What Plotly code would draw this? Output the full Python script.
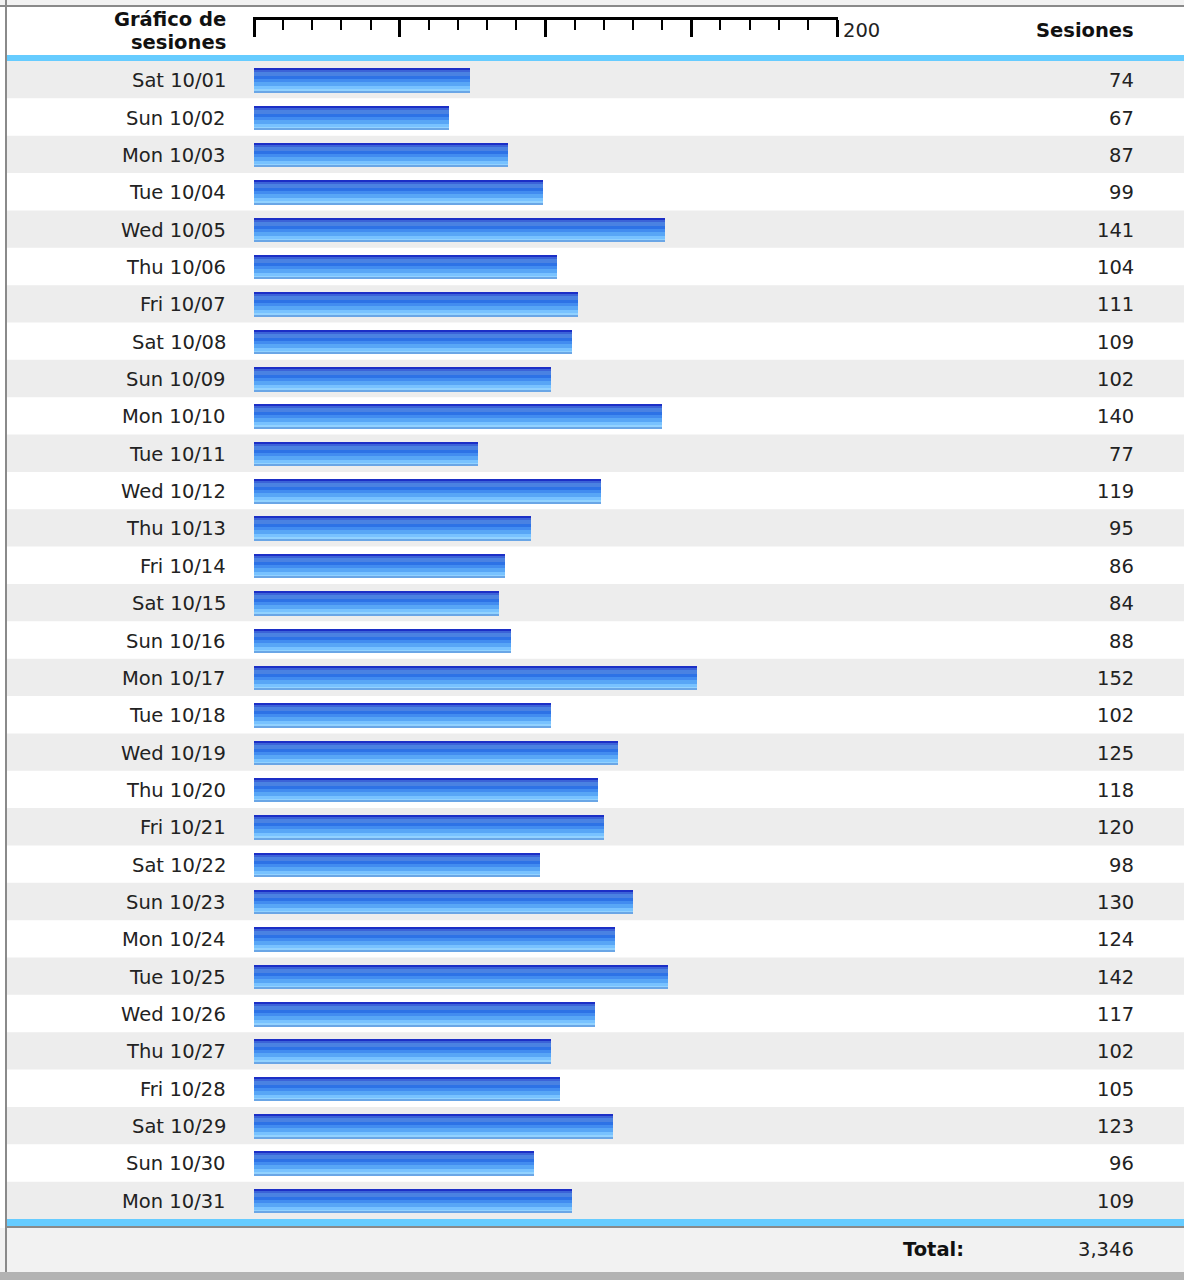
import plotly.graph_objects as go

# ---------------- data ----------------
days = ["Sat", "Sun", "Mon", "Tue", "Wed", "Thu", "Fri"] * 5
dates = ["10/%02d" % d for d in range(1, 32)]
labels = [f"{days[i]} {dates[i]}" for i in range(31)]
sessions = [74, 67, 87, 99, 141, 104, 111, 109, 102, 140, 77, 119, 95, 86, 84, 88,
            152, 102, 125, 118, 120, 98, 130, 124, 142, 117, 102, 105, 123, 96, 109]
ruler_major = [0, 50, 100, 150, 200]
ruler_label = "200"
header_left = ["Gráfico de", "sesiones"]
header_right = "Sesiones"
total_label = "Total:"

# ---------------- geometry (pixels) ----------------
W, H = 1184, 1280
ROW_TOP, ROW_BOT = 61, 1219
N = len(labels)
ROW_H = (ROW_BOT - ROW_TOP) / N
X0_PX, X200_PX = 254, 837
PXU = (X200_PX - X0_PX) / 200.0
FONT = "DejaVu Sans"
FS = 19.5
TXT = "#222222"
LBL_R = 228
VAL_R = 1136


def py(px):
    return 1 - px / H


def px_x(px):
    return px / W


fig = go.Figure()

# gradient stripes for the bars (height px, colour), top to bottom
stripes = [(2, "#1c2fc6"), (2, "#3b63d8"), (4, "#4a82e2"), (3, "#2d72e6"),
           (3, "#428cf0"), (4, "#58a6f6"), (3, "#78c2ff"), (2, "#92d2ff"),
           (1, "#6aa6e6")]
top = -11.5
cum = 0
for h, c in stripes:
    fig.add_trace(go.Bar(
        x=sessions, y=list(range(N)), orientation="h",
        width=h / ROW_H, offset=(top + cum) / ROW_H,
        marker=dict(color=c, line=dict(width=0)),
        hoverinfo="skip", showlegend=False, xaxis="x", yaxis="y"))
    cum += h

# invisible trace so the ruler axis is drawn
fig.add_trace(go.Scatter(x=[0, 200], y=[0, 0], mode="markers",
                         marker=dict(opacity=0), hoverinfo="skip",
                         showlegend=False, xaxis="x2", yaxis="y2"))

shapes = []
# top light strip & bottom strips
shapes.append(dict(type="rect", xref="paper", yref="paper", x0=0, x1=1,
                   y0=py(5), y1=1, fillcolor="#f2f2f2", line_width=0, layer="below"))
shapes.append(dict(type="rect", xref="paper", yref="paper", x0=0, x1=1,
                   y0=py(1272), y1=py(1228), fillcolor="#f2f2f2", line_width=0, layer="below"))
shapes.append(dict(type="rect", xref="paper", yref="paper", x0=0, x1=1,
                   y0=0, y1=py(1272), fillcolor="#b3b3b3", line_width=0, layer="below"))
# gray rules
shapes.append(dict(type="rect", xref="paper", yref="paper", x0=0, x1=1,
                   y0=py(7), y1=py(5), fillcolor="#8a8a8a", line_width=0, layer="below"))
shapes.append(dict(type="rect", xref="paper", yref="paper", x0=px_x(7), x1=1,
                   y0=py(1228), y1=py(1226), fillcolor="#8a8a8a", line_width=0, layer="below"))
shapes.append(dict(type="rect", xref="paper", yref="paper", x0=px_x(5), x1=px_x(7),
                   y0=py(1272), y1=1, fillcolor="#8a8a8a", line_width=0, layer="below"))
# blue bands
shapes.append(dict(type="rect", xref="paper", yref="paper", x0=px_x(7), x1=1,
                   y0=py(61), y1=py(55), fillcolor="#66ccff", line_width=0, layer="below"))
shapes.append(dict(type="rect", xref="paper", yref="paper", x0=px_x(7), x1=1,
                   y0=py(1226), y1=py(1219), fillcolor="#66ccff", line_width=0, layer="below"))
# alternating rows
for i in range(N):
    if i % 2 == 0:
        shapes.append(dict(type="rect", xref="paper", yref="y", x0=px_x(7), x1=1,
                           y0=i - 0.5, y1=i + 0.5, fillcolor="#ededed",
                           line_width=0, layer="below"))

annotations = []
for i in range(N):
    annotations.append(dict(x=px_x(LBL_R), y=i, xref="paper", yref="y", text=labels[i],
                            showarrow=False, xanchor="right", yanchor="middle", yshift=-1,
                            font=dict(family=FONT, size=FS, color=TXT)))
    annotations.append(dict(x=px_x(VAL_R), y=i, xref="paper", yref="y",
                            text=f"{sessions[i]:,}",
                            showarrow=False, xanchor="right", yanchor="middle", yshift=-1,
                            font=dict(family=FONT, size=FS, color=TXT)))
# header
for txt, ypx in zip(header_left, [19, 43]):
    annotations.append(dict(x=px_x(LBL_R), y=py(ypx), xref="paper", yref="paper", text=txt,
                            showarrow=False, xanchor="right", yanchor="middle",
                            font=dict(family=FONT, size=FS, color="#111111", weight="bold")))
annotations.append(dict(x=px_x(VAL_R), y=py(31), xref="paper", yref="paper", text=header_right,
                        showarrow=False, xanchor="right", yanchor="middle",
                        font=dict(family=FONT, size=FS, color="#111111", weight="bold")))
annotations.append(dict(x=ruler_major[-1], y=py(31), xref="x2", yref="paper", text=ruler_label,
                        showarrow=False, xanchor="left", yanchor="middle", xshift=4,
                        font=dict(family=FONT, size=FS, color=TXT)))
# footer
annotations.append(dict(x=px_x(966), y=py(1249), xref="paper", yref="paper", text=total_label,
                        showarrow=False, xanchor="right", yanchor="middle",
                        font=dict(family=FONT, size=FS, color="#111111", weight="bold")))
annotations.append(dict(x=px_x(VAL_R), y=py(1249), xref="paper", yref="paper",
                        text=f"{sum(sessions):,}",
                        showarrow=False, xanchor="right", yanchor="middle",
                        font=dict(family=FONT, size=FS, color=TXT)))

pad = 0.5  # data units added on each end of the ruler so edge ticks are fully drawn
fig.update_layout(
    width=W, height=H, margin=dict(l=0, r=0, t=0, b=0),
    paper_bgcolor="white", plot_bgcolor="rgba(0,0,0,0)",
    barmode="overlay", bargap=0,
    showlegend=False,
    xaxis=dict(domain=[px_x(X0_PX), px_x(X200_PX)], range=[0, 200],
               visible=False, fixedrange=True),
    yaxis=dict(domain=[py(ROW_BOT), py(ROW_TOP)], range=[N - 0.5, -0.5],
               visible=False, fixedrange=True),
    xaxis2=dict(domain=[px_x(X0_PX - pad * PXU), px_x(X200_PX + pad * PXU)],
                range=[-pad, 200 + pad], anchor="y2",
                side="top", showline=True, linecolor="#000000", linewidth=3,
                ticks="inside", ticklen=17, tickwidth=3, tickcolor="#000000",
                tickvals=ruler_major, showticklabels=False, showgrid=False,
                zeroline=False, fixedrange=True,
                minor=dict(tickvals=list(range(10, 200, 10)), ticks="inside", ticklen=10,
                           tickwidth=2, tickcolor="#000000", showgrid=False)),
    yaxis2=dict(domain=[py(45), py(19.5)], range=[0, 1], anchor="x2",
                visible=False, fixedrange=True),
    shapes=shapes, annotations=annotations,
)

fig.write_html("out.html", config={"displayModeBar": False},
               post_script="document.body.style.margin='0';document.body.style.overflow='hidden';")
